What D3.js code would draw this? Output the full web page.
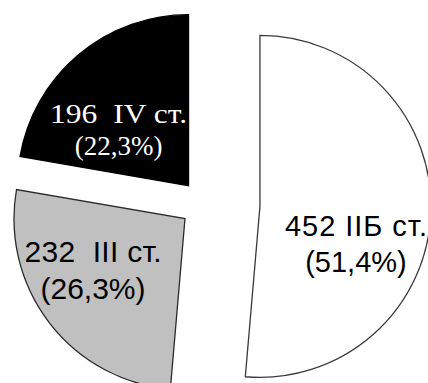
<!DOCTYPE html>
<html>
<head>
<meta charset="utf-8">
<script src="https://cdn.jsdelivr.net/npm/d3@7"></script>
<style>
  html, body { margin: 0; padding: 0; background: #fff; }
  svg { display: block; }
</style>
</head>
<body>
<svg id="chart" width="428" height="383"></svg>
<script>
// Stages of disease: patient counts and shares
const stages  = ["IIБ ст.", "III ст.", "IV ст."];
const counts  = [452, 232, 196];
const shares  = ["51,4", "26,3", "22,3"];
const fills   = ["#ffffff", "#c0c0c0", "#000000"];
const strokes = ["#3a3a3a", "#2a2a2a", "#000000"];
const textColors = ["#000000", "#000000", "#ffffff"];
const fonts   = ["'Liberation Sans', Arial, sans-serif",
                 "'Liberation Sans', Arial, sans-serif",
                 "'Liberation Serif', 'Times New Roman', serif"];
const labelSizes   = [29, 30, 27];
const lineGaps     = [36, 37, 32];
const firstLineLen = [142, 137, 137];          // width of the "count + stage" line
const firstLineFit = ["spacing", "spacing", "spacingAndGlyphs"];
const gapsBetween  = ["", " ", " "];           // extra space after the count

// layout
const cx = 204, cy = 204, radius = 171;
const explode = [56, 24, 24];                  // slice offset along its bisector
const labelOffset = [[96, 30], [-92, 43], [-70, -63]];  // first-line baseline, from slice apex

const data = counts.map((v, i) => ({ i, v }));
const pie = d3.pie().value(d => d.v).sort(null);
const arc = d3.arc().innerRadius(0).outerRadius(radius);

const svg = d3.select("#chart");
const g = svg.append("g").attr("transform", `translate(${cx},${cy})`);

const slices = g.selectAll("g.slice")
  .data(pie(data))
  .join("g")
  .attr("class", "slice")
  .attr("transform", d => {
    const mid = (d.startAngle + d.endAngle) / 2;
    const k = explode[d.data.i];
    return `translate(${k * Math.sin(mid)},${-k * Math.cos(mid)})`;
  });

slices.append("path")
  .attr("d", arc)
  .attr("fill", d => fills[d.data.i])
  .attr("stroke", d => strokes[d.data.i])
  .attr("stroke-width", 1.3)
  .attr("stroke-linejoin", "miter");

const labels = slices.append("g")
  .attr("transform", d => `translate(${labelOffset[d.data.i][0]},${labelOffset[d.data.i][1]})`)
  .attr("fill", d => textColors[d.data.i])
  .attr("font-family", d => fonts[d.data.i])
  .attr("font-size", d => labelSizes[d.data.i]);

labels.append("text")
  .attr("text-anchor", "middle")
  .attr("x", 0).attr("y", 0)
  .attr("xml:space", "preserve")
  .style("white-space", "pre")
  .attr("textLength", d => firstLineLen[d.data.i])
  .attr("lengthAdjust", d => firstLineFit[d.data.i])
  .text(d => `${counts[d.data.i]} ${gapsBetween[d.data.i]}${stages[d.data.i]}`);

labels.append("text")
  .attr("text-anchor", "middle")
  .attr("x", 0).attr("y", d => lineGaps[d.data.i])
  .text(d => `(${shares[d.data.i]}%)`);
</script>
</body>
</html>
